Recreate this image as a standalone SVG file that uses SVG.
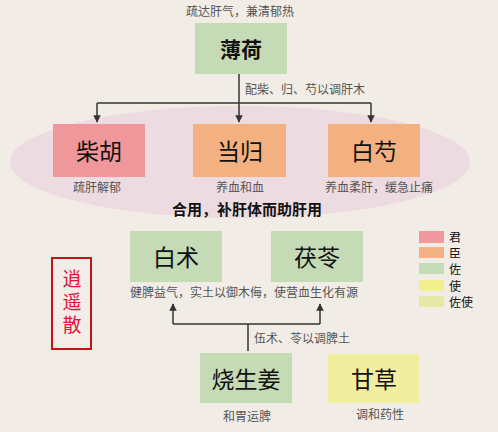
<svg xmlns="http://www.w3.org/2000/svg" width="498" height="432" viewBox="0 0 498 432">
<defs>
<style>
.lbl{font-family:"Noto Sans CJK SC","Noto Sans",sans-serif;font-size:12px;fill:#555;text-anchor:middle}
.nt{font-family:"Noto Sans CJK SC","Noto Sans",sans-serif;font-size:23px;fill:#111;text-anchor:middle;dominant-baseline:central}
.ln{stroke:#333;stroke-width:1.5;fill:none}
.g{fill:#c5dbb6}.r{fill:#f0979b}.o{fill:#f3b080}.y{fill:#f1ee9f}
.lg{font-family:"Noto Sans CJK SC","Noto Sans",sans-serif;font-size:12px;fill:#111}
.tt{font-family:"Noto Sans CJK SC",sans-serif;font-size:19px;fill:#e8103c;writing-mode:vertical-rl;letter-spacing:4px}
</style>
<marker id="ah" viewBox="0 0 10 10" refX="9" refY="5" markerWidth="5" markerHeight="5" orient="auto"><path d="M0,0L10,5L0,10z" fill="#333"/></marker>
</defs>
<rect width="498" height="432" fill="#f1ede6"/>
<ellipse cx="240" cy="162" rx="230" ry="56" fill="#ecdbe0"/>
<text class="lbl" x="240" y="16">疏达肝气，兼清郁热</text>
<g id="connectors">
<path class="ln" d="M239,74V103"/>
<path class="ln" d="M97,103H371"/>
<path class="ln" d="M97,103V122" marker-end="url(#ah)"/>
<path class="ln" d="M239,103V122" marker-end="url(#ah)"/>
<path class="ln" d="M371,103V122" marker-end="url(#ah)"/>
<path class="ln" d="M248,351V324"/>
<path class="ln" d="M173,324H320"/>
<path class="ln" d="M173,324V304" marker-end="url(#ah)"/>
<path class="ln" d="M320,324V304" marker-end="url(#ah)"/>
<text class="lbl" x="245" y="94" style="text-anchor:start">配柴、归、芍以调肝木</text>
<text class="lbl" x="254" y="343" style="text-anchor:start">伍术、苓以调脾土</text>
</g>
<g id="bohe"><rect class="g" x="195" y="23" width="92" height="51"/><text class="nt" x="241" y="48" style="font-weight:bold;font-size:21px">薄荷</text></g>
<g id="chaihu"><rect class="r" x="53" y="124" width="92" height="53"/><text class="nt" x="99" y="150">柴胡</text><text class="lbl" x="97" y="192">疏肝解郁</text></g>
<g id="danggui"><rect class="o" x="193" y="124" width="93" height="53"/><text class="nt" x="240" y="150">当归</text><text class="lbl" x="240" y="192">养血和血</text></g>
<g id="baishao"><rect class="o" x="328" y="124" width="92" height="53"/><text class="nt" x="374" y="150">白芍</text><text class="lbl" x="379" y="192">养血柔肝，缓急止痛</text></g>
<text x="247" y="215" style="font-family:'Noto Sans CJK SC',sans-serif;font-size:15px;font-weight:bold;fill:#111;text-anchor:middle">合用，补肝体而助肝用</text>
<g id="baizhu"><rect class="g" x="130" y="231" width="92" height="51"/><text class="nt" x="176" y="256">白术</text></g>
<g id="fuling"><rect class="g" x="271" y="231" width="92" height="51"/><text class="nt" x="317" y="256">茯苓</text></g>
<text class="lbl" x="244" y="297">健脾益气，实土以御木侮，使营血生化有源</text>
<g id="shengjiang"><rect class="g" x="200" y="353" width="92" height="50"/><text class="nt" x="246" y="378">烧生姜</text><text class="lbl" x="247" y="421">和胃运脾</text></g>
<g id="gancao"><rect class="y" x="328" y="354" width="91" height="49"/><text class="nt" x="374" y="378">甘草</text><text class="lbl" x="380" y="419">调和药性</text></g>
<g id="title"><rect x="52" y="258" width="39" height="91" fill="#f3ede8" stroke="#c0141c" stroke-width="2"/>
<text class="tt" x="72" y="269">逍遥散</text></g>
<g id="legend">
<rect x="419" y="231" width="25" height="12" fill="#f0999c"/><text class="lg" x="449" y="242">君</text>
<rect x="419" y="247" width="25" height="11" fill="#f4b183"/><text class="lg" x="449" y="258">臣</text>
<rect x="419" y="263" width="25" height="11" fill="#c6dcb8"/><text class="lg" x="449" y="274">佐</text>
<rect x="419" y="280" width="25" height="11" fill="#f3ee8e"/><text class="lg" x="449" y="291">使</text>
<rect x="419" y="296" width="25" height="11" fill="#e6e8a8"/><text class="lg" x="449" y="307">佐使</text>
</g>
</svg>
